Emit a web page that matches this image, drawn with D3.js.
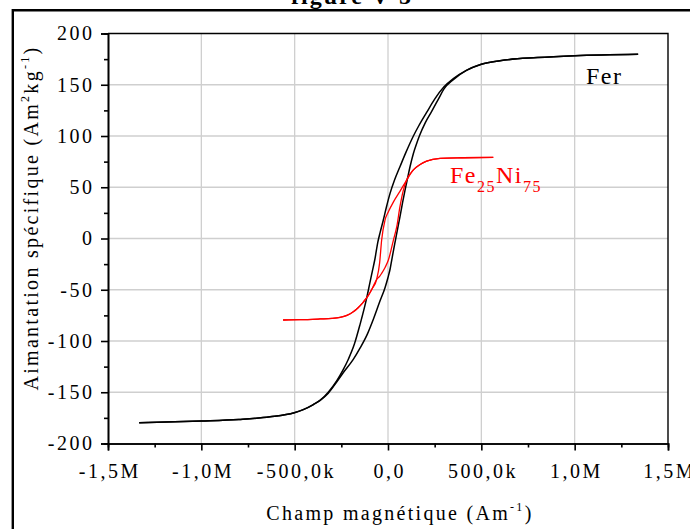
<!DOCTYPE html>
<html>
<head>
<meta charset="utf-8">
<script src="https://cdn.jsdelivr.net/npm/d3@7"></script>
<style>
html,body{margin:0;padding:0;background:#fff;}
svg text{font-family:"Liberation Serif","Times New Roman",Times,"DejaVu Serif",serif;}
</style>
</head>
<body>
<svg id="chart" width="690" height="529" font-family="Liberation Serif, Times New Roman, serif"></svg>
<script>
// ---- data ----
const xTickValues = [-1500, -1000, -500, 0, 500, 1000, 1500]; // kA/m
const xTickLabels = ["-1,5M", "-1,0M", "-500,0k", "0,0", "500,0k", "1,0M", "1,5M"];
const yTickValues = [-200, -150, -100, -50, 0, 50, 100, 150, 200];
const yTickLabels = ["-200", "-150", "-100", "-50", "0", "50", "100", "150", "200"];

// Fer : descending (upper) branch, H in kA/m, M in Am2/kg
const ferDescH = [-1333,-1000,-800,-632,-502,-454,-400,-364,-320,-275,-240,-213,-180,-150,-114,-98,-84,-70,-55,-42,-25,-8,11,35,64,96,136,165,207,250,300,350,420,500,600,800,1000,1340];
const ferDescM = [-179.7,-178,-176.5,-174,-170,-167,-162,-158,-150,-139,-128,-118,-103,-84,-58,-44,-32,-20,-4,6,18,31,44,57,70,84,100,110,123,136,148,156,164,170,173.5,176.5,178.3,179.7];
// Fer : ascending (lower) branch
const ferAscH = [-1333,-1000,-800,-632,-502,-454,-400,-364,-320,-275,-240,-186,-150,-110,-79,-45,-16,0,11,20,30,40,52,64,78,91,105,118,136,154,168,200,234,270,300,350,420,500,600,800,1000,1340];
const ferAscM = [-179.7,-178,-176.5,-174,-170,-167,-162,-158,-151,-140,-131,-118,-107,-93,-79,-62,-48,-38,-30,-21,-11,-1.5,10,21,35,47,59,70,83,93,100,113,124,136,146,155,164,170,173.5,176.5,178.3,179.7];

// Fe25Ni75 : descending (left) strand
const niDescH = [-562,-470,-364,-300,-257,-220,-186,-160,-132,-107,-85,-61,-45,-34,-16,2,30,64,100,136,170,207,279,400,564];
const niDescM = [-79.5,-79.2,-78.5,-78,-77,-75,-71.5,-67.5,-62,-56,-49,-40,-24,-1.5,18,26,36,46,57,67,72,75.5,78.2,78.8,79.2];
// Fe25Ni75 : ascending (right) strand
const niAscH = [-562,-470,-364,-300,-257,-220,-186,-160,-132,-107,-85,-61,-45,-34,-15,2,29,47,64,82,100,136,170,207,279,400,564];
const niAscM = [-79.5,-79.2,-78.5,-78,-77,-75,-71.5,-67.5,-62,-56,-49,-40,-37,-34,-28,-21,-1.5,11.5,31,47,57,67,72,75.5,78.2,78.8,79.2];

// ---- layout ----
const svg = d3.select("#chart");
const L = 108, R = 668, T = 33.5, B = 443.5;
const x = d3.scaleLinear().domain([-1500, 1500]).range([L, R]);
const y = d3.scaleLinear().domain([-200, 200]).range([B, T]);
const FONT = "Liberation Serif, Times New Roman, serif";

// outer frame
svg.append("path").attr("d", `M12.8,540 V10.3 H700`).attr("fill","none").attr("stroke","#000").attr("stroke-width",2.4);

// title (clipped at top)
svg.append("text").attr("x", 352).attr("y", 3.5).attr("text-anchor","middle").attr("font-family", FONT)
  .attr("font-size", 24).attr("font-weight","bold").style("letter-spacing","2px").text("figure V-5");

// grid
const grid = svg.append("g").attr("stroke","#cfcfcf").attr("stroke-width",1.3);
grid.selectAll("line.v").data(xTickValues.slice(1,-1)).join("line").attr("class","v")
  .attr("x1", d=>x(d)).attr("x2", d=>x(d)).attr("y1", T).attr("y2", B);
grid.selectAll("line.h").data(yTickValues.slice(1,-1)).join("line").attr("class","h")
  .attr("x1", L).attr("x2", R).attr("y1", d=>y(d)).attr("y2", d=>y(d));

// plot box top/right
svg.append("path").attr("d", `M${L},${T} H${R} V${B}`).attr("fill","none").attr("stroke","#000").attr("stroke-width",1.4);

// axes
const fmtX = d => xTickLabels[xTickValues.indexOf(d)];
const fmtY = d => yTickLabels[yTickValues.indexOf(d)];
const xAxis = svg.append("g").attr("transform", `translate(0,${B})`)
  .call(d3.axisBottom(x).tickValues(xTickValues).tickFormat(fmtX).tickSize(7).tickPadding(13));
const xMinor = svg.append("g").attr("transform", `translate(0,${B})`)
  .call(d3.axisBottom(x).tickValues(d3.range(-1250, 1500, 500)).tickFormat("").tickSize(4));
const yAxis = svg.append("g").attr("transform", `translate(${L},0)`)
  .call(d3.axisLeft(y).tickValues(yTickValues).tickFormat(fmtY).tickSize(7).tickPadding(9));
const yMinor = svg.append("g").attr("transform", `translate(${L},0)`)
  .call(d3.axisLeft(y).tickValues(d3.range(-175, 200, 50)).tickFormat("").tickSize(4));
[xAxis, xMinor, yAxis, yMinor].forEach(g => {
  g.attr("font-family", FONT);
  g.select(".domain").attr("stroke","#000").attr("stroke-width",1.6);
  g.selectAll(".tick line").attr("stroke","#000").attr("stroke-width",1.6);
});
[xAxis, yAxis].forEach(g => g.selectAll(".tick text")
  .attr("font-family", FONT).attr("font-size",20).attr("fill","#000")
  .style("letter-spacing","2.5px"));
yAxis.selectAll(".tick text").attr("dx", 2.5);
xAxis.selectAll(".tick text").attr("dx", 1.25);

// curves (each branch is monotone in H)
const line = d3.line().x(d=>x(d[0])).y(d=>y(d[1])).curve(d3.curveMonotoneX);
const zip = (a,b) => a.map((v,i)=>[v,b[i]]);
const branches = [
  {pts: zip(ferDescH, ferDescM), color: "#000", w: 1.5},
  {pts: zip(ferAscH, ferAscM), color: "#000", w: 1.5},
  {pts: zip(niDescH, niDescM), color: "#ff0000", w: 1.3},
  {pts: zip(niAscH, niAscM), color: "#ff0000", w: 1.3}
];
svg.append("g").selectAll("path").data(branches).join("path")
  .attr("d", d => line(d.pts)).attr("fill","none")
  .attr("stroke", d => d.color).attr("stroke-width", d => d.w);

// labels
svg.append("text").attr("x", 586).attr("y", 84).attr("font-family", FONT).attr("font-size", 24).style("letter-spacing","1.5px").text("Fer");
const ni = svg.append("text").attr("x", 450).attr("y", 183).attr("font-family", FONT).attr("font-size", 24).attr("fill","#ff0000").style("letter-spacing","1.5px");
ni.append("tspan").text("Fe");
ni.append("tspan").attr("dy", 9).attr("font-size", 16).text("25");
ni.append("tspan").attr("dy", -9).text("Ni");
ni.append("tspan").attr("dy", 9).attr("font-size", 16).text("75");

// axis titles
const xt = svg.append("text").attr("x", 400).attr("y", 520).attr("text-anchor","middle").attr("font-family", FONT).attr("font-size", 20).style("letter-spacing","2.3px");
xt.append("tspan").text("Champ magnétique (Am");
xt.append("tspan").attr("dy", -9).attr("font-size", 12).text("-1");
xt.append("tspan").attr("dy", 9).text(")");

const yt = svg.append("text").attr("transform", "translate(38,218) rotate(-90)").attr("text-anchor","middle").attr("font-family", FONT).attr("font-size", 20).style("letter-spacing","2.3px");
yt.append("tspan").text("Aimantation spécifique (Am");
yt.append("tspan").attr("dy", -9).attr("font-size", 12).text("2");
yt.append("tspan").attr("dy", 9).text("kg");
yt.append("tspan").attr("dy", -9).attr("font-size", 12).text("-1");
yt.append("tspan").attr("dy", 9).text(")");
</script>
</body>
</html>
